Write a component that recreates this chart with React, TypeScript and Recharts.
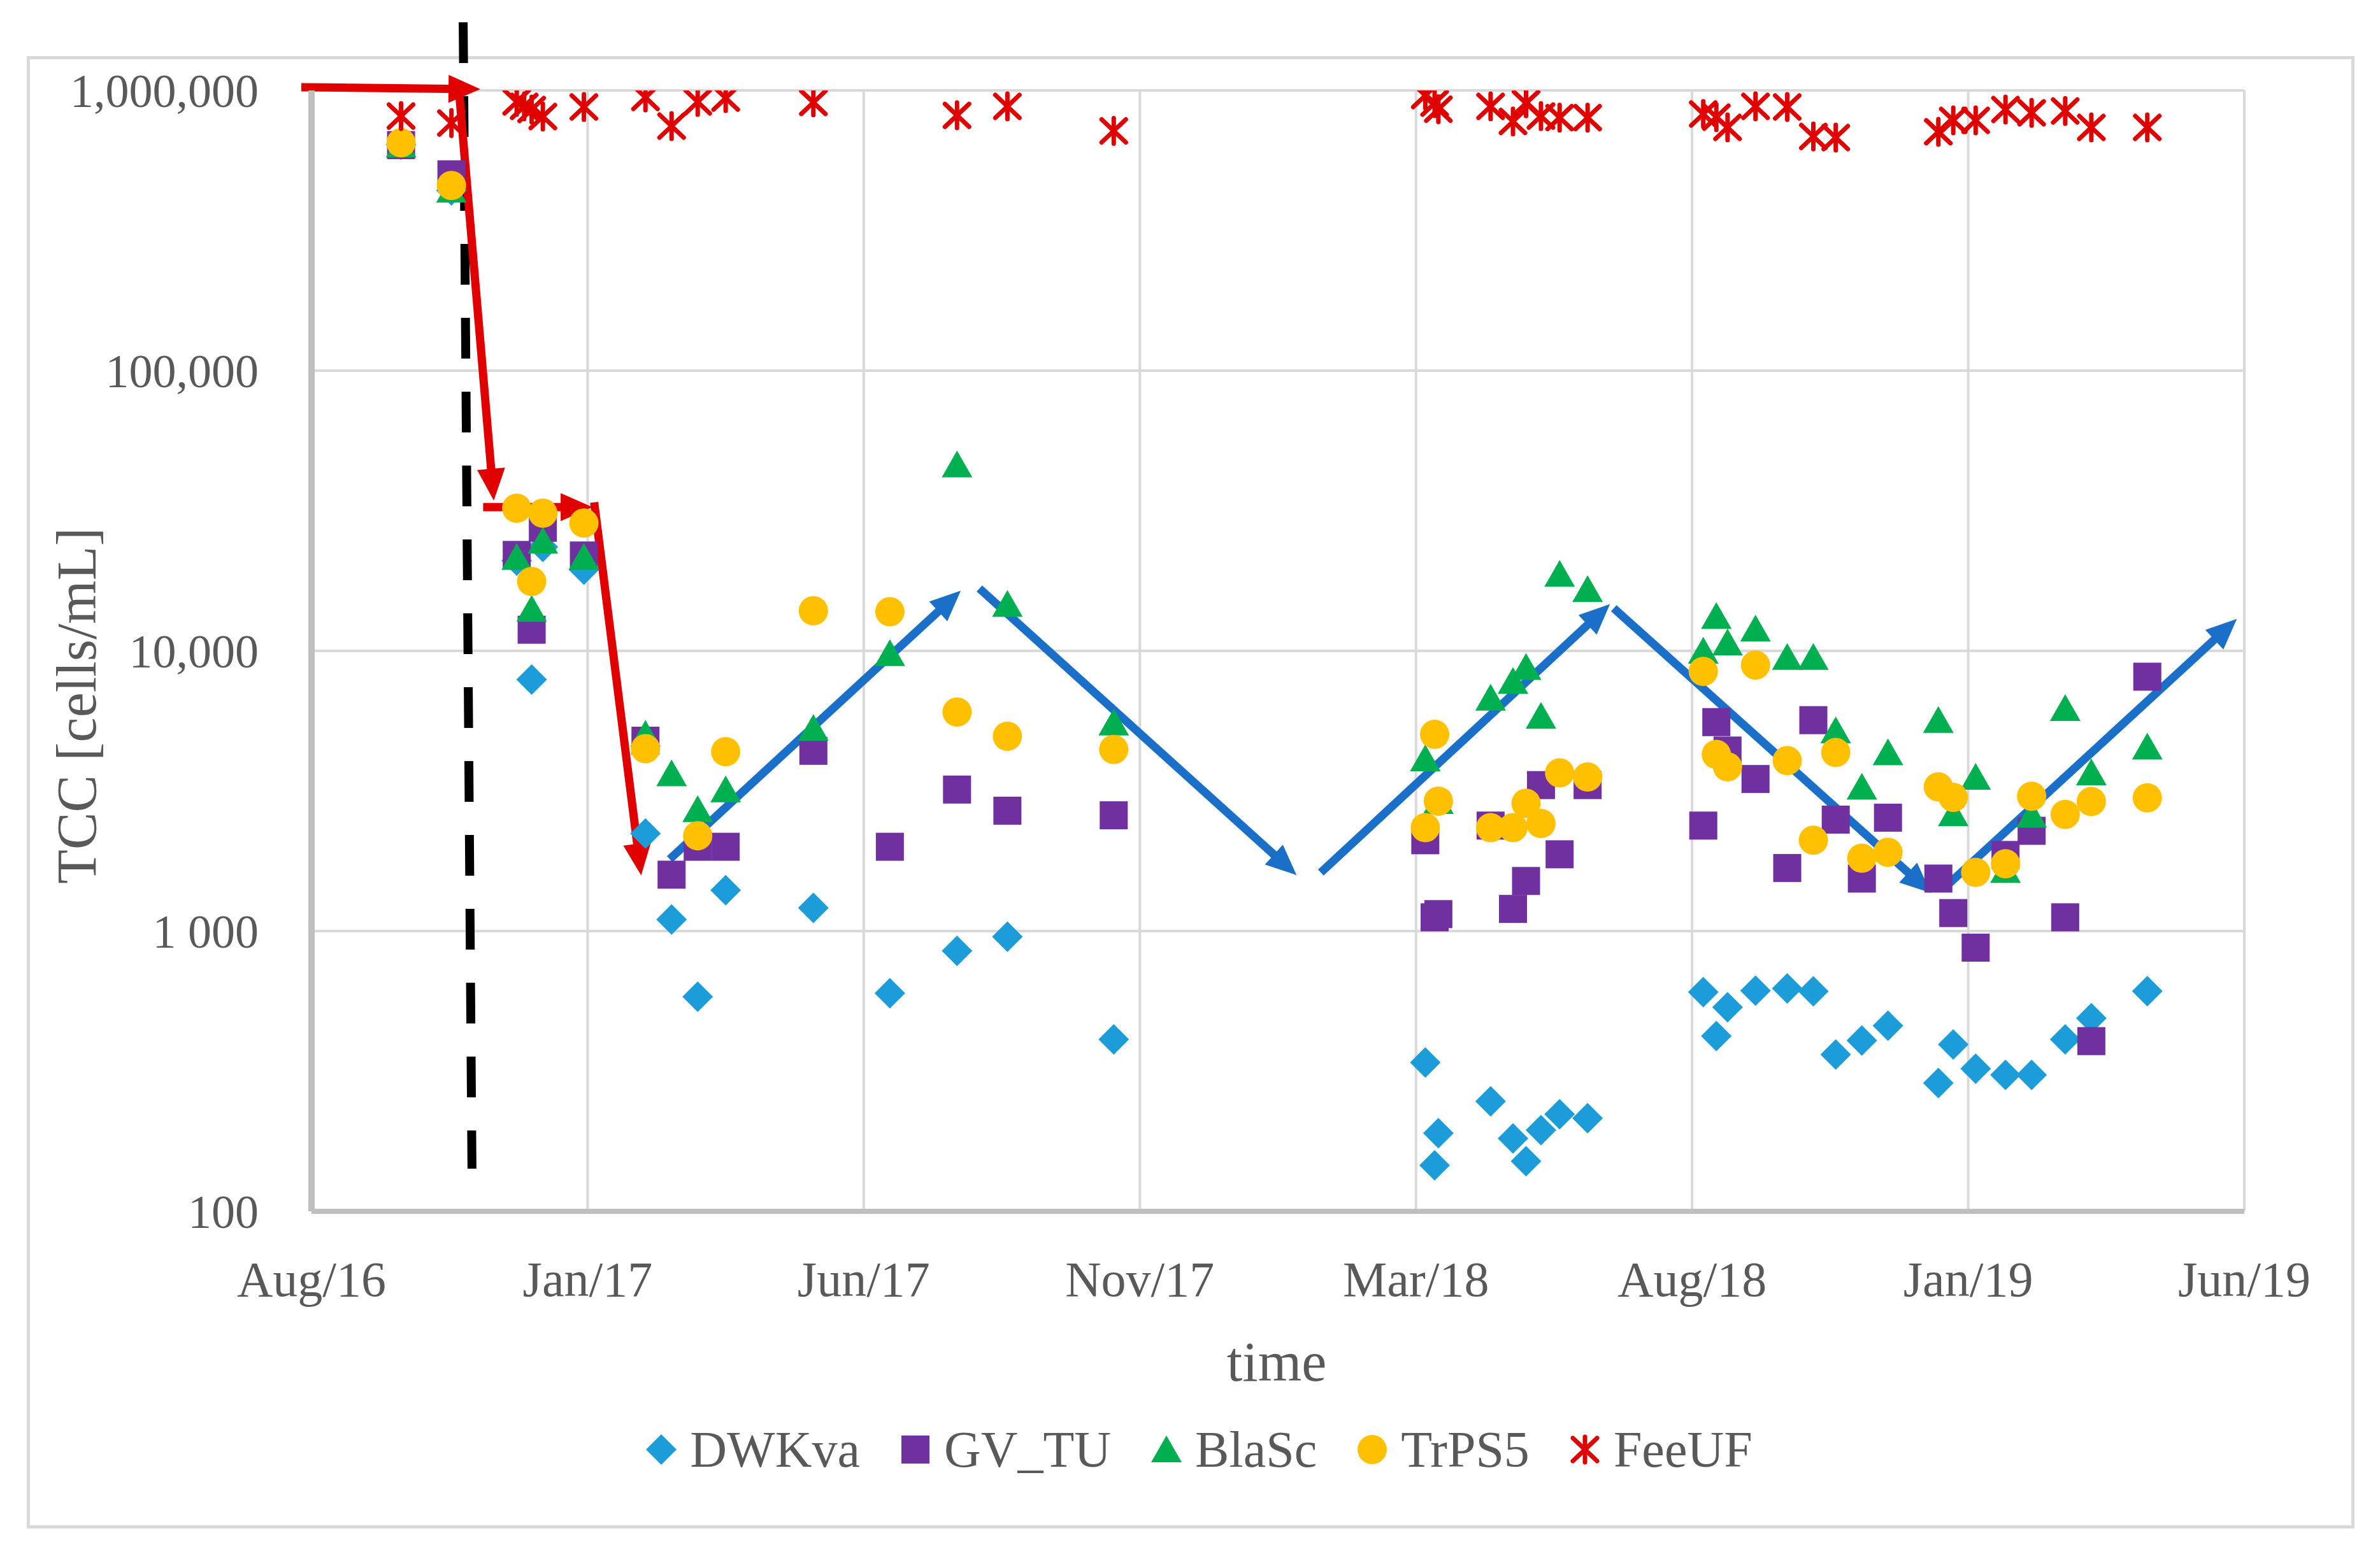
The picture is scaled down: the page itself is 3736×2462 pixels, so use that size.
import React from 'react';
import { ScatterChart, Scatter, XAxis, YAxis, CartesianGrid, ReferenceLine } from 'recharts';

// sampling dates, as days since the axis start (mid Aug 2016)
const sampleDays = [48, 75, 110, 114, 118, 124, 146, 179, 193, 207, 222, 269, 310, 346, 373, 430, 597, 602, 604, 632, 644, 651, 659, 669, 684, 746, 753, 759, 774, 791, 805, 817, 831, 845, 872, 880, 892, 908, 922, 940, 954, 984];

const dwkva = [640000, 440000, 21000, null, 7900, 23500, 19500, 2230, 1100, 583, 1400, 1210, 600, 850, 955, 411, 340, 146, 190, 247, 182, 151, 195, 222, 215, 606, 422, 535, 613, 624, 610, 363, 407, 460, 287, 394, 323, 307, 307, 411, 489, 611];
const gvTu = [638000, 502000, 22000, null, 11900, 27500, 21900, 4780, 1590, 2000, 2000, 4400, 2000, 3200, 2690, 2590, 2110, 1120, 1150, 2380, 1200, 1510, 3320, 1880, 3320, 2380, 5570, 4410, 3490, 1680, 5660, 2500, 1540, 2540, 1540, 1160, 873, 1870, 2280, 1120, 405, 8090];
const blaSc = [640000, 442000, 21600, null, 14100, 24700, 21600, 5050, 3650, 2720, 3200, 5300, 9800, 46200, 14700, 5540, 4130, null, 2910, 6800, 7800, 8750, 5860, 18800, 16600, 10000, 13300, 10700, 12000, 9500, 9500, 5200, 3270, 4340, 5660, 2630, 3550, 1650, 2600, 6240, 3680, 4550];
const trPs5 = [650000, 458000, 32300, null, 17700, 31000, 28600, 4480, null, 2190, 4370, 13900, 13800, 6050, 4960, 4450, 2340, 5040, 2910, 2340, 2340, 2860, 2420, 3670, 3550, 8450, 4270, 3860, 8900, 4060, 2110, 4340, 1820, 1910, 3270, 3000, 1620, 1740, 3030, 2610, 2900, 2990];
const feeUf = [810000, 765000, 910000, 877000, 855000, 807000, 873000, 944000, 746000, 910000, 939000, 906000, null, 815000, 877000, 717000, 959000, 901000, 857000, 877000, 775000, 900000, 810000, 800000, 800000, 824000, 803000, 738000, 877000, 873000, 685000, 679000, null, null, 712000, 782000, 782000, 855000, 832000, 845000, 738000, 738000];

const xTicks = [0, 148, 296, 444, 592, 740, 888, 1036];
const xTickLabels = ['Aug/16', 'Jan/17', 'Jun/17', 'Nov/17', 'Mar/18', 'Aug/18', 'Jan/19', 'Jun/19'];
const yTicks = [100, 1000, 10000, 100000, 1000000];
const yTickLabels = ['100', '1 000', '10,000', '100,000', '1,000,000'];

// annotation arrows, in data coordinates [day, TCC]
const redArrows = [
  [[-5.5, 1027000], [90.5, 1010000]],
  [[79, 1010000], [97.7, 34400]],
  [[92, 32600], [150.6, 32600]],
  [[151.5, 33900], [176.7, 1580]],
];
const blueArrows = [
  [[192, 1807], [348, 16400]],
  [[358, 16700], [528, 1585]],
  [[541, 1618], [696, 14700]],
  [[698, 14200], [868, 1368]],
  [[876, 1442], [1032, 13000]],
];
const dashedLine = [[81.3, 1750000], [86, 142]];

const FONT = "'Liberation Serif', 'Times New Roman', serif";
const TEXT = '#595959';

const toPoints = (values: (number | null)[]) =>
  sampleDays.map((day, i) => ({ day, v: values[i] })).filter((d) => d.v != null);

const Diamond = ({ cx, cy, color }: any) => (
  <polygon points={`${cx},${cy - 24} ${cx + 24},${cy} ${cx},${cy + 24} ${cx - 24},${cy}`} fill={color} />
);
const Square = ({ cx, cy, color }: any) => <rect x={cx - 22} y={cy - 22} width={44} height={44} fill={color} />;
const Triangle = ({ cx, cy, color }: any) => (
  <polygon points={`${cx},${cy - 22} ${cx + 24},${cy + 20} ${cx - 24},${cy + 20}`} fill={color} />
);
const Dot = ({ cx, cy, color }: any) => <circle cx={cx} cy={cy} r={23} fill={color} />;
const Star = ({ cx, cy, color }: any) => (
  <g stroke={color} strokeWidth={7} strokeLinecap="round">
    <line x1={cx - 19} y1={cy - 18} x2={cx + 19} y2={cy + 18} />
    <line x1={cx + 19} y1={cy - 18} x2={cx - 19} y2={cy + 18} />
    <line x1={cx} y1={cy - 20} x2={cx} y2={cy + 20} />
  </g>
);

const series = [
  { name: 'DWKva', values: dwkva, color: '#1c9cd8', Marker: Diamond },
  { name: 'GV_TU', values: gvTu, color: '#7030a0', Marker: Square },
  { name: 'BlaSc', values: blaSc, color: '#00b050', Marker: Triangle },
  { name: 'TrPS5', values: trPs5, color: '#ffc000', Marker: Dot },
  { name: 'FeeUF', values: feeUf, color: '#e00000', Marker: Star },
];

const arrowShape = (color: string, width: number, headLen: number, headW: number) => (props: any) => {
  const { x1, y1, x2, y2 } = props;
  const dx = x2 - x1;
  const dy = y2 - y1;
  const len = Math.hypot(dx, dy) || 1;
  const ux = dx / len;
  const uy = dy / len;
  const bx = x2 - ux * headLen;
  const by = y2 - uy * headLen;
  const px = -uy * headW / 2;
  const py = ux * headW / 2;
  return (
    <g>
      <line x1={x1} y1={y1} x2={bx + ux * 2} y2={by + uy * 2} stroke={color} strokeWidth={width} />
      <polygon points={`${x2},${y2} ${bx + px},${by + py} ${bx - px},${by - py}`} fill={color} />
    </g>
  );
};

const redShape = arrowShape('#e00000', 13, 50, 44);
const blueShape = arrowShape('#1a6fc9', 13, 48, 42);

const LegendRow = () => (
  <div
    style={{
      position: 'absolute', left: 0, top: 2236, width: 3764, height: 80,
      display: 'flex', justifyContent: 'center', alignItems: 'center',
      fontFamily: FONT, fontSize: 80, color: TEXT,
    }}
  >
    {series.map(({ name, color, Marker }) => (
      <div key={name} style={{ display: 'flex', alignItems: 'center', margin: '0 31px' }}>
        <svg width={50} height={50} style={{ overflow: 'visible' }}>
          <Marker cx={25} cy={25} color={color} />
        </svg>
        <span style={{ marginLeft: 20, lineHeight: '80px' }}>{name}</span>
      </div>
    ))}
  </div>
);

const App: React.FC = () => {
  return (
    <div style={{ position: 'absolute', left: 0, top: 0, width: 3736, height: 2462, background: '#fff' }}>
      <div
        style={{
          position: 'absolute', left: 42, top: 88, width: 3654, height: 2312,
          border: '5px solid #d9d9d9', boxSizing: 'border-box',
        }}
      />
      <div style={{ position: 'absolute', left: 0, top: 0 }}>
        <ScatterChart width={3736} height={2462} margin={{ top: 142, right: 213, left: 0, bottom: 0 }}>
          <CartesianGrid stroke="#d9d9d9" strokeWidth={4} />
          <XAxis
            type="number"
            dataKey="day"
            domain={[0, 1036]}
            ticks={xTicks}
            interval={0}
            allowDataOverflow
            height={560}
            tickLine={false}
            tickSize={0}
            tickMargin={78}
            axisLine={{ stroke: '#bfbfbf', strokeWidth: 8 }}
            tick={{ fill: TEXT, fontSize: 78, fontFamily: FONT }}
            tickFormatter={(v: number) => xTickLabels[xTicks.indexOf(v)]}
            label={{
              content: () => (
                <text x={2004} y={2168} textAnchor="middle" fill={TEXT} fontSize={88} fontFamily={FONT}>
                  time
                </text>
              ),
            }}
          />
          <YAxis
            type="number"
            dataKey="v"
            scale="log"
            domain={[100, 1000000]}
            ticks={yTicks}
            interval={0}
            allowDataOverflow
            width={489}
            tickLine={false}
            tickSize={0}
            tickMargin={83}
            axisLine={{ stroke: '#bfbfbf', strokeWidth: 10 }}
            tick={{ fill: TEXT, fontSize: 74, fontFamily: FONT }}
            tickFormatter={(v: number) => yTickLabels[yTicks.indexOf(v)]}
            label={{
              content: () => (
                <text
                  x={150}
                  y={1108}
                  transform="rotate(-90 150 1108)"
                  textAnchor="middle"
                  fill={TEXT}
                  fontSize={88}
                  fontFamily={FONT}
                >
                  TCC [cells/mL]
                </text>
              ),
            }}
          />
          {series.map(({ name, values, color, Marker }) => (
            <Scatter
              key={name}
              name={name}
              data={toPoints(values)}
              isAnimationActive={false}
              shape={(p: any) => <Marker cx={p.cx} cy={p.cy} color={color} />}
            />
          ))}
          <ReferenceLine
            segment={dashedLine.map(([x, y]) => ({ x, y }))}
            stroke="#000"
            strokeWidth={14}
            strokeDasharray="64 52"
            ifOverflow="visible"
          />
          {redArrows.map((a, i) => (
            <ReferenceLine
              key={`r${i}`}
              segment={a.map(([x, y]) => ({ x, y }))}
              ifOverflow="visible"
              shape={redShape}
            />
          ))}
          {blueArrows.map((a, i) => (
            <ReferenceLine
              key={`b${i}`}
              segment={a.map(([x, y]) => ({ x, y }))}
              ifOverflow="visible"
              shape={blueShape}
            />
          ))}
        </ScatterChart>
      </div>
      <LegendRow />
    </div>
  );
};

export default App;
